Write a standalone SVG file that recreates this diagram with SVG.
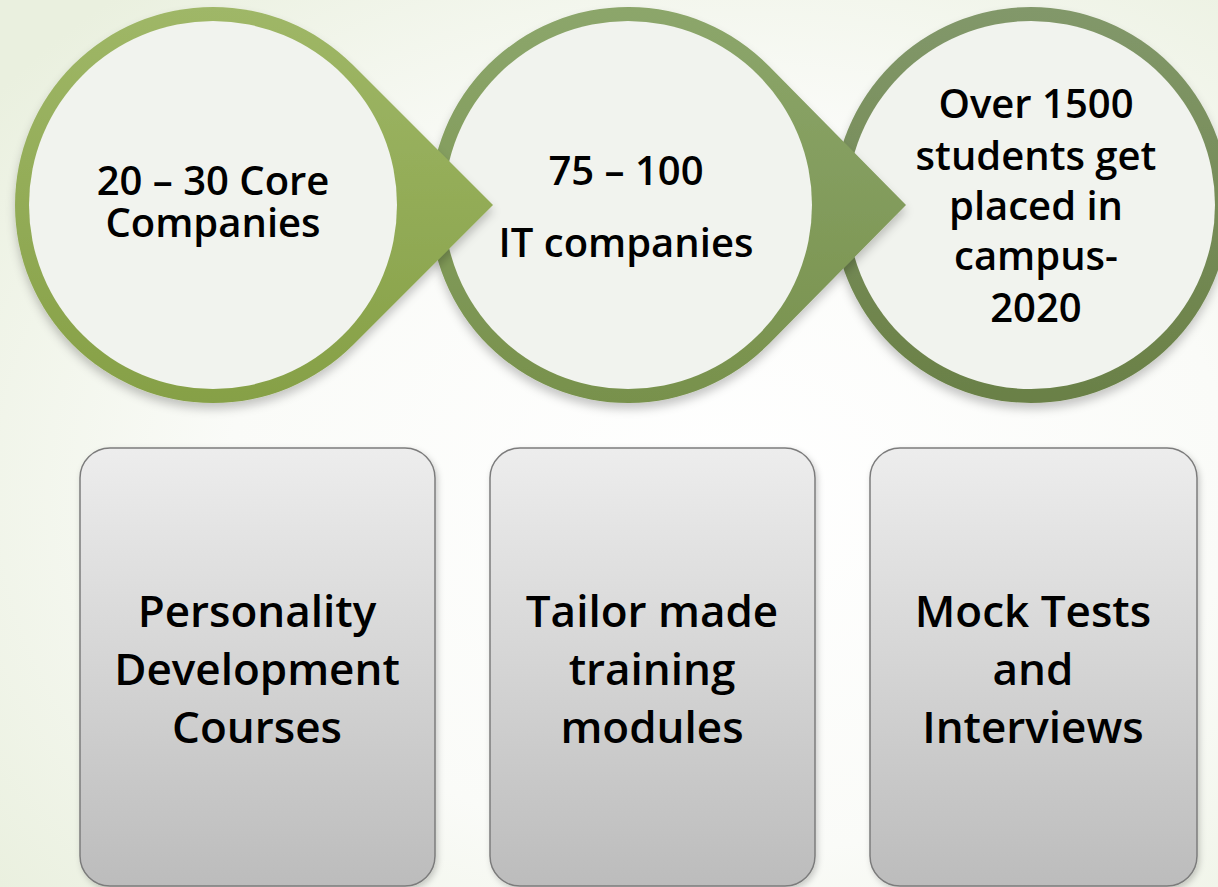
<svg xmlns="http://www.w3.org/2000/svg" width="1218" height="887" viewBox="0 0 1218 887">
<defs>
  <radialGradient id="bg" cx="0.6" cy="0.55" r="0.75">
    <stop offset="0" stop-color="#ffffff"/>
    <stop offset="0.55" stop-color="#fafbf8"/>
    <stop offset="1" stop-color="#eaf0df"/>
  </radialGradient>
  <linearGradient id="g1" x1="0" y1="0" x2="0" y2="1">
    <stop offset="0" stop-color="#9fb767"/>
    <stop offset="1" stop-color="#86a046"/>
  </linearGradient>
  <linearGradient id="g2" x1="0" y1="0" x2="0" y2="1">
    <stop offset="0" stop-color="#8ca66b"/>
    <stop offset="1" stop-color="#78914c"/>
  </linearGradient>
  <linearGradient id="g3" x1="0" y1="0" x2="0" y2="1">
    <stop offset="0" stop-color="#82986a"/>
    <stop offset="1" stop-color="#6a8046"/>
  </linearGradient>
  <linearGradient id="box" x1="0" y1="0" x2="0" y2="1">
    <stop offset="0" stop-color="#ededed"/>
    <stop offset="1" stop-color="#bcbcbc"/>
  </linearGradient>
  <filter id="sh" x="-20%" y="-20%" width="140%" height="150%">
    <feDropShadow dx="0" dy="6" stdDeviation="5" flood-color="#000" flood-opacity="0.22"/>
  </filter>
  <filter id="shb" x="-10%" y="-10%" width="120%" height="120%">
    <feDropShadow dx="2" dy="3" stdDeviation="3" flood-color="#000" flood-opacity="0.2"/>
  </filter>
</defs>
<style>
  .inner { fill: #f1f3ee; }
  .card { fill: url(#box); stroke: #7c7c7c; stroke-width: 1.5; filter: url(#shb); }
  text { font-family: "Open Sans", "Noto Sans", "Liberation Sans", sans-serif; font-weight: 650; fill: #000; text-anchor: middle; }
  .ct { font-size: 40px; }
  .bt { font-size: 44px; }
</style>
<rect width="1218" height="887" fill="url(#bg)"/>

<g id="connectors"/>

<g id="circle3">
  <circle cx="1031" cy="205" r="198" fill="url(#g3)" filter="url(#sh)"/>
  <circle class="inner" cx="1031" cy="205" r="184"/>
  <text class="ct" x="1036" y="118">Over 1500</text>
  <text class="ct" x="1036" y="170">students get</text>
  <text class="ct" x="1036" y="220">placed in</text>
  <text class="ct" x="1036" y="270">campus-</text>
  <text class="ct" x="1036" y="322">2020</text>
</g>

<g id="circle2">
  <path d="M769.4,66.4 L906,205 L769.4,343.6 A198,198 0 1 1 769.4,66.4 Z" fill="url(#g2)" filter="url(#sh)"/>
  <circle class="inner" cx="628" cy="205" r="184"/>
  <text class="ct" x="626" y="185">75 – 100</text>
  <text class="ct" x="626" y="257">IT companies</text>
</g>

<g id="circle1">
  <path d="M353,65 L493,205 L353,345 A198,198 0 1 1 353,65 Z" fill="url(#g1)" filter="url(#sh)"/>
  <circle class="inner" cx="213" cy="205" r="184"/>
  <text class="ct" x="213" y="195">20 – 30 Core<tspan x="213" dy="42">Companies</tspan></text>
</g>

<g id="box1">
  <rect class="card" x="80" y="448" width="355" height="438" rx="30"/>
  <text class="bt" x="257" y="627">Personality</text>
  <text class="bt" x="257" y="685">Development</text>
  <text class="bt" x="257" y="743">Courses</text>
</g>

<g id="box2">
  <rect class="card" x="490" y="448" width="325" height="438" rx="30"/>
  <text class="bt" x="652" y="627">Tailor made</text>
  <text class="bt" x="652" y="685">training</text>
  <text class="bt" x="652" y="743">modules</text>
</g>

<g id="box3">
  <rect class="card" x="870" y="448" width="327" height="438" rx="30"/>
  <text class="bt" x="1033" y="627">Mock Tests</text>
  <text class="bt" x="1033" y="685">and</text>
  <text class="bt" x="1033" y="743">Interviews</text>
</g>
</svg>
